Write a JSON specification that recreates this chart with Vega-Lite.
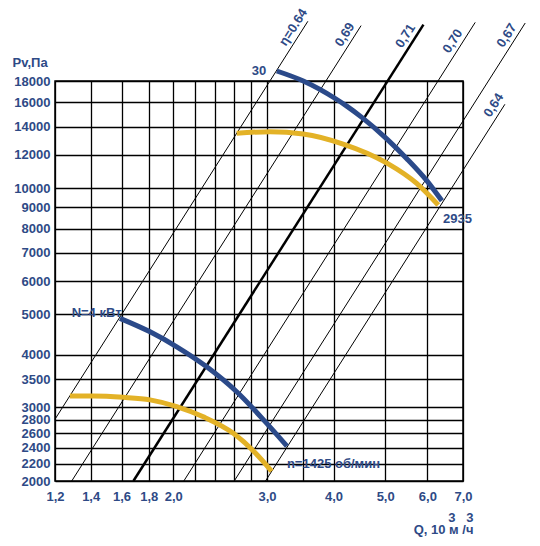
{
  "$schema": "https://vega.github.io/schema/vega-lite/v6.json",
  "width": 408,
  "height": 400,
  "autosize": {"type": "none"},
  "padding": {"left": 55, "top": 81, "right": 77, "bottom": 65},
  "background": "white",
  "datasets": {
    "eta": [
      {"name": "η=0.64", "Q": 1.2, "P": 2808},
      {"name": "η=0.64", "Q": 3.58, "P": 24990},
      {"name": "0,69", "Q": 1.29, "P": 2000},
      {"name": "0,69", "Q": 4.506, "P": 24400},
      {"name": "0,71", "Q": 1.684, "P": 2000},
      {"name": "0,71", "Q": 5.9, "P": 24540},
      {"name": "0,70", "Q": 2.094, "P": 2000},
      {"name": "0,70", "Q": 7.38, "P": 24840},
      {"name": "0,67", "Q": 2.604, "P": 2000},
      {"name": "0,67", "Q": 9.16, "P": 24750},
      {"name": "0,64", "Q": 2.981, "P": 2000},
      {"name": "0,64", "Q": 8.39, "P": 15840}
    ],
    "eta_labels": [
      {"name": "η=0.64", "Q": 3.475, "P": 23550},
      {"name": "0,69", "Q": 4.34, "P": 22620},
      {"name": "0,71", "Q": 5.64, "P": 22460},
      {"name": "0,70", "Q": 6.92, "P": 21820},
      {"name": "0,67", "Q": 8.74, "P": 22510},
      {"name": "0,64", "Q": 8.26, "P": 15340}
    ],
    "curves": [
      {"curve": "pv_2935", "kind": "pv", "Q": 3.13, "P": 19016},
      {"curve": "pv_2935", "kind": "pv", "Q": 3.51, "P": 18000},
      {"curve": "pv_2935", "kind": "pv", "Q": 4.03, "P": 16350},
      {"curve": "pv_2935", "kind": "pv", "Q": 4.235, "P": 15680},
      {"curve": "pv_2935", "kind": "pv", "Q": 4.52, "P": 14740},
      {"curve": "pv_2935", "kind": "pv", "Q": 5.04, "P": 13080},
      {"curve": "pv_2935", "kind": "pv", "Q": 5.49, "P": 11750},
      {"curve": "pv_2935", "kind": "pv", "Q": 5.99, "P": 10400},
      {"curve": "pv_2935", "kind": "pv", "Q": 6.39, "P": 9320},
      {"curve": "n_2935", "kind": "n", "Q": 2.632, "P": 13510},
      {"curve": "n_2935", "kind": "n", "Q": 3.04, "P": 13630},
      {"curve": "n_2935", "kind": "n", "Q": 3.51, "P": 13460},
      {"curve": "n_2935", "kind": "n", "Q": 4.17, "P": 12733},
      {"curve": "n_2935", "kind": "n", "Q": 5.04, "P": 11468},
      {"curve": "n_2935", "kind": "n", "Q": 5.73, "P": 10258},
      {"curve": "n_2935", "kind": "n", "Q": 6.29, "P": 9107},
      {"curve": "pv_1425", "kind": "pv", "Q": 1.589, "P": 4887},
      {"curve": "pv_1425", "kind": "pv", "Q": 1.81, "P": 4538},
      {"curve": "pv_1425", "kind": "pv", "Q": 2.031, "P": 4180},
      {"curve": "pv_1425", "kind": "pv", "Q": 2.312, "P": 3745},
      {"curve": "pv_1425", "kind": "pv", "Q": 2.632, "P": 3265},
      {"curve": "pv_1425", "kind": "pv", "Q": 2.997, "P": 2744},
      {"curve": "pv_1425", "kind": "pv", "Q": 3.27, "P": 2422},
      {"curve": "n_1425", "kind": "n", "Q": 1.28, "P": 3190},
      {"curve": "n_1425", "kind": "n", "Q": 1.416, "P": 3190},
      {"curve": "n_1425", "kind": "n", "Q": 1.612, "P": 3167},
      {"curve": "n_1425", "kind": "n", "Q": 1.81, "P": 3123},
      {"curve": "n_1425", "kind": "n", "Q": 2.031, "P": 3010},
      {"curve": "n_1425", "kind": "n", "Q": 2.278, "P": 2846},
      {"curve": "n_1425", "kind": "n", "Q": 2.594, "P": 2599},
      {"curve": "n_1425", "kind": "n", "Q": 2.953, "P": 2225},
      {"curve": "n_1425", "kind": "n", "Q": 3.06, "P": 2110}
    ],
    "notes": [
      {"text": "30", "side": "right", "Q": 2.99, "P": 18600},
      {"text": "N=4 кВт", "side": "right", "Q": 1.6, "P": 4920},
      {"text": "2935", "side": "left", "Q": 6.42, "P": 8250},
      {"text": "n=1425 об/мин", "side": "left", "Q": 3.27, "P": 2148}
    ]
  },
  "encoding": {
    "x": {
      "field": "Q",
      "type": "quantitative",
      "scale": {"type": "log", "domain": [1.2, 7], "nice": false, "zero": false},
      "axis": {
        "values": [1.2, 1.4, 1.6, 1.8, 2, 2.2, 2.4, 2.6, 2.8, 3, 3.5, 4, 5, 6, 7],
        "labelExpr": "indexof([1.2, 1.4, 1.6, 1.8, 2, 3, 4, 5, 6, 7], datum.value) >= 0 ? replace(format(datum.value, '.1f'), '.', ',') : ''",
        "labelPadding": 9,
        "labelOverlap": false,
        "labelFlush": false,
        "title": ["3\u00a0\u00a0\u00a03\u00a0\u00a0\u00a0", "Q, 10 м /ч"],
        "titleX": 418,
        "titleY": 40,
        "titleAlign": "right",
        "titleBaseline": "alphabetic",
        "titleLineHeight": 12
      }
    },
    "y": {
      "field": "P",
      "type": "quantitative",
      "scale": {"type": "log", "domain": [2000, 18000], "nice": false, "zero": false},
      "axis": {
        "values": [2000, 2200, 2400, 2600, 2800, 3000, 3500, 4000, 5000, 6000, 7000, 8000, 9000, 10000, 12000, 14000, 16000, 18000],
        "format": "d",
        "labelPadding": 5,
        "labelOverlap": false,
        "labelFlush": false,
        "title": "Pv,Па",
        "titleAngle": 0,
        "titleX": -43,
        "titleY": -15,
        "titleAlign": "left",
        "titleBaseline": "alphabetic"
      }
    }
  },
  "layer": [
    {
      "data": {"name": "eta"},
      "mark": {"type": "line", "color": "#000"},
      "encoding": {
        "detail": {"field": "name"},
        "strokeWidth": {"condition": {"test": "datum.name == '0,71'", "value": 2.5}, "value": 1}
      }
    },
    {
      "data": {"name": "curves"},
      "mark": {"type": "line", "strokeWidth": 5, "interpolate": "monotone", "strokeCap": "butt"},
      "encoding": {
        "detail": {"field": "curve"},
        "color": {
          "field": "kind",
          "type": "nominal",
          "scale": {"domain": ["pv", "n"], "range": ["#2b4a8a", "#e3b227"]},
          "legend": null
        }
      }
    },
    {
      "data": {"name": "eta_labels"},
      "mark": {"type": "text", "angle": 302.4, "align": "center", "baseline": "bottom", "dy": -2},
      "encoding": {"text": {"field": "name"}}
    },
    {
      "data": {"name": "notes"},
      "transform": [{"filter": "datum.side == 'right'"}],
      "mark": {"type": "text", "align": "right", "baseline": "alphabetic"},
      "encoding": {"text": {"field": "text"}}
    },
    {
      "data": {"name": "notes"},
      "transform": [{"filter": "datum.side == 'left'"}],
      "mark": {"type": "text", "align": "left", "baseline": "alphabetic"},
      "encoding": {"text": {"field": "text"}}
    }
  ],
  "config": {
    "font": "Liberation Sans",
    "view": {"stroke": "#000", "strokeWidth": 1.5},
    "axis": {
      "grid": true,
      "gridColor": "#000",
      "gridOpacity": 1,
      "gridWidth": 1.3,
      "domain": false,
      "ticks": false,
      "labelFont": "Liberation Sans",
      "labelFontWeight": "bold",
      "labelFontSize": 13,
      "labelColor": "#2e4a86",
      "titleFont": "Liberation Sans",
      "titleFontWeight": "bold",
      "titleFontSize": 13,
      "titleColor": "#2e4a86"
    },
    "text": {"font": "Liberation Sans", "fontWeight": "bold", "fontSize": 13, "fill": "#2e4a86"}
  }
}
